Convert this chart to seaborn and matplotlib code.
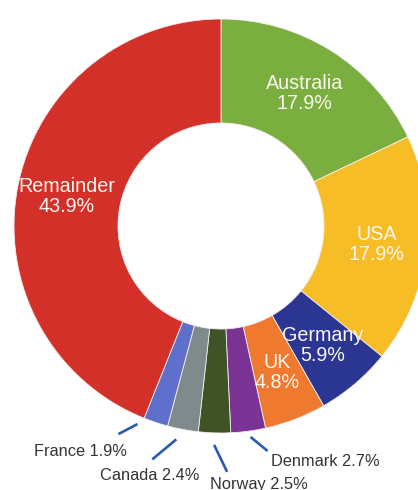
import numpy as np
import matplotlib
matplotlib.use("Agg")
import matplotlib.pyplot as plt
import seaborn as sns

# Share of total by country, clockwise from 12 o'clock
countries = ["Australia", "USA", "Germany", "UK", "Denmark", "Norway",
             "Canada", "France", "Remainder"]
shares = [17.9, 17.9, 5.9, 4.8, 2.7, 2.5, 2.4, 1.9, 43.9]
slice_colors = ["#7aae3f", "#f6bd27", "#2b3592", "#ef7a2f", "#7a3395",
                "#3f5326", "#7e8a8b", "#5e6fcc", "#d3302a"]

# Which slices carry their label inside the ring
inside = ["Australia", "USA", "Germany", "UK", "Remainder"]

# Leader lines for the small slices: angular nudge (deg) and radius of the
# line start, line end offset and text offset (pixels)
outside_layout = {
    "Denmark": {"dang": 0.4, "r": 213, "line": (17, -14), "text": (58, -11)},
    "Norway":  {"dang": 0.0, "r": 219, "line": (13, -27), "text": (32, -13)},
    "Canada":  {"dang": -1.2, "r": 218, "line": (-24, -20), "text": (-3, -16)},
    "France":  {"dang": -4.5, "r": 215, "line": (-19, -10), "text": (-38, -17)},
}

sns.set_theme(style="white")
plt.rcParams["font.family"] = ["Liberation Sans", "DejaVu Sans"]

W, H = 418, 490
fig = plt.figure(figsize=(W / 100, H / 100), dpi=100)
ax = fig.add_axes([0, 0, 1, 1])
ax.set_axis_off()

cx, cy = 221, H - 226
R = 207
ring = 104

wedges, _ = ax.pie(
    shares, colors=slice_colors, startangle=90, counterclock=False,
    center=(cx, cy), radius=R, normalize=True,
    wedgeprops=dict(width=ring, edgecolor="#f4eeee", linewidth=0.6),
)
ax.set_xlim(0, W)
ax.set_ylim(0, H)
ax.set_aspect("equal")

for name, val, w in zip(countries, shares, wedges):
    mid_deg = (w.theta1 + w.theta2) / 2
    if name in inside:
        mid = np.deg2rad(mid_deg)
        r = 157
        ax.text(cx + r * np.cos(mid), cy + r * np.sin(mid), f"{name}\n{val}%",
                ha="center", va="center", color="#fbf6ef", fontsize=14.2,
                linespacing=1.05)
    else:
        lay = outside_layout[name]
        a = np.deg2rad(mid_deg + lay["dang"])
        x0, y0 = cx + lay["r"] * np.cos(a), cy + lay["r"] * np.sin(a)
        x1, y1 = x0 + lay["line"][0], y0 + lay["line"][1]
        ax.plot([x0, x1], [y0, y1], color="#2a5ab0", lw=1.9,
                solid_capstyle="butt")
        ax.text(x1 + lay["text"][0], y1 + lay["text"][1], f"{name} {val}%",
                ha="center", va="center", color="#333333", fontsize=11.8)

fig.savefig("out.png", dpi=100, facecolor="white")
